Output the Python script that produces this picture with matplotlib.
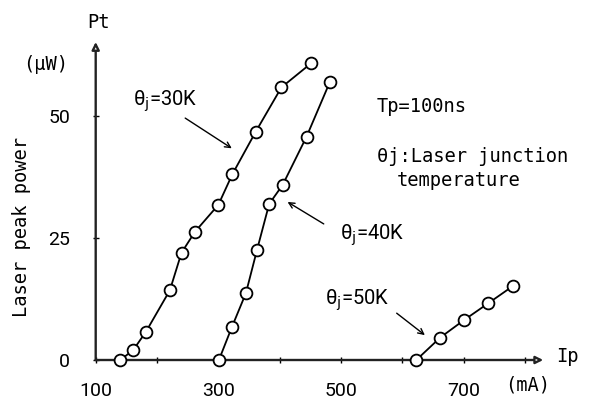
import matplotlib
matplotlib.use("Agg")
import matplotlib.pyplot as plt

# Ip (mA) / Pt (uW)
ip_30k = [140, 161, 182, 221, 240, 262, 300, 323, 361, 403, 452]
pt_30k = [0, 2.0, 5.8, 14.3, 22.0, 26.3, 31.8, 38.1, 46.8, 55.9, 60.9]
ip_40k = [301, 322, 345, 363, 383, 405, 444, 482]
pt_40k = [0, 6.7, 13.7, 22.5, 32.0, 35.9, 45.8, 57.0]
ip_50k = [623, 662, 701, 740, 781]
pt_50k = [0, 4.6, 8.2, 11.6, 15.2]

x_ticks = [100, 200, 300, 400, 500, 600, 700, 800]
x_labels = ['100', '', '300', '', '500', '', '700', '']
y_ticks = [0, 25, 50]
y_labels = ['0', '25', '50']

W, H = 596, 399
mono = 'DejaVu Sans Mono'
sans = 'Roboto'
plt.rcParams['mathtext.fontset'] = 'dejavusans'

fig = plt.figure(figsize=(W / 100, H / 100), dpi=100)
ax = fig.add_axes([95.7 / W, 39 / H, 447.5 / W, 318 / H])
ax.set_xlim(100, 830)
ax.set_ylim(0, 65.2)
for s in ax.spines.values():
    s.set_visible(False)

# axes drawn as arrows
arr = dict(arrowstyle='-|>', lw=1.7, color='#222222', fc='white', mutation_scale=11,
           shrinkA=0, shrinkB=0)
ax.annotate('', xy=(830, 0), xytext=(100, 0), arrowprops=arr, annotation_clip=False)
ax.annotate('', xy=(100, 65.2), xytext=(100, 0), arrowprops=arr, annotation_clip=False)

ax.set_xticks(x_ticks)
ax.set_xticklabels(x_labels, fontfamily=sans, fontsize=14)
ax.set_yticks(y_ticks)
ax.set_yticklabels(y_labels, fontfamily=sans, fontsize=14)
ax.tick_params(axis='x', direction='inout', length=5, width=1, pad=13)
ax.tick_params(axis='y', direction='inout', length=5, width=1, pad=16)

style = dict(color='black', lw=1.3, marker='o', ms=8.5, mfc='white', mec='black',
             mew=1.3, clip_on=False, zorder=5)
ax.plot(ip_30k, pt_30k, **style)
ax.plot(ip_40k, pt_40k, **style)
ax.plot(ip_50k, pt_50k, **style)

thin = dict(arrowstyle='->', lw=1.0, color='black', shrinkA=0, shrinkB=0)
ax.annotate('', xy=(322, 43.4), xytext=(246, 49.6), arrowprops=thin)
ax.annotate('', xy=(413, 32.4), xytext=(472, 27.9), arrowprops=thin)
ax.annotate('', xy=(637, 5.1), xytext=(591, 9.6), arrowprops=thin)


def put(x, y, s, **kw):
    fig.text(x / W, 1 - y / H, s, **kw)


put(165, 101, r'θ$_{\mathrm{j}}$=30K', ha='center', va='center', fontsize=14.5, fontfamily=sans)
put(372, 235, r'θ$_{\mathrm{j}}$=40K', ha='center', va='center', fontsize=14.5, fontfamily=sans)
put(357, 300, r'θ$_{\mathrm{j}}$=50K', ha='center', va='center', fontsize=14.5, fontfamily=sans)

put(377, 107, 'Tp=100ns', ha='left', va='center', fontsize=13.5, fontfamily=mono)
put(377, 157, 'θj:Laser junction', ha='left', va='center', fontsize=13.5, fontfamily=mono)
put(397, 181, 'temperature', ha='left', va='center', fontsize=13.5, fontfamily=mono)

put(98, 22, 'Pt', ha='center', va='center', fontsize=13.5, fontfamily=mono)
put(46, 65, '(μW)', ha='center', va='center', fontsize=13.5, fontfamily=mono)
put(22, 227, 'Laser peak power', ha='center', va='center', rotation=90,
    fontsize=13.5, fontfamily=mono)
put(556, 357, 'Ip', ha='left', va='center', fontsize=13.5, fontfamily=mono)
put(528, 385, '(mA)', ha='center', va='center', fontsize=13.5, fontfamily=mono)

fig.savefig('out.png', dpi=100, facecolor='white')
